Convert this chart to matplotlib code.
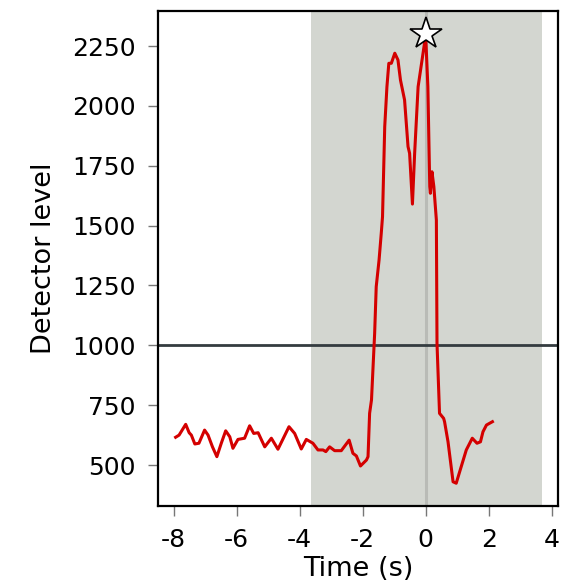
import numpy as np
import matplotlib
matplotlib.use("Agg")
import matplotlib.pyplot as plt

# detector trace (time in s, level)
time_s = [-7.94, -7.83, -7.62, -7.51, -7.44, -7.33, -7.20, -7.02, -6.91, -6.77,
          -6.63, -6.49, -6.35, -6.22, -6.12, -5.96, -5.75, -5.59, -5.46, -5.32,
          -5.11, -4.90, -4.69, -4.34, -4.16, -3.95, -3.79, -3.58, -3.42, -3.26,
          -3.17, -3.05, -2.89, -2.68, -2.43, -2.31, -2.20, -2.07, -1.88, -1.83,
          -1.78, -1.72, -1.62, -1.57, -1.48, -1.41, -1.37, -1.30, -1.23, -1.17,
          -1.09, -0.98, -0.88, -0.80, -0.67, -0.56, -0.51, -0.42, -0.35, -0.24,
          -0.10, 0.00, 0.07, 0.13, 0.15, 0.20, 0.26, 0.34, 0.36, 0.44,
          0.57, 0.60, 0.71, 0.87, 0.97, 1.08, 1.29, 1.48, 1.63, 1.74,
          1.82, 1.93, 2.12]
level = [616, 625, 670, 635, 625, 588, 591, 646, 625, 576,
         535, 591, 643, 618, 570, 607, 612, 664, 632, 635,
         576, 612, 566, 660, 632, 567, 607, 591, 563, 563,
         556, 576, 560, 560, 604, 549, 538, 496, 521, 535,
         716, 772, 1050, 1245, 1356, 1468, 1537, 1913, 2080, 2178,
         2178, 2220, 2192, 2108, 2025, 1830, 1802, 1590, 1802, 2080,
         2205, 2295, 2080, 1663, 1635, 1725, 1663, 1523, 1008, 716,
         695, 681, 597, 430, 424, 472, 563, 612, 591, 597,
         639, 667, 681]

threshold = 1000
window = (-3.64, 3.70)
peak_time, peak_level = 0.0, 2300

x_ticks = [-8, -6, -4, -2, 0, 2, 4]
y_ticks = [500, 750, 1000, 1250, 1500, 1750, 2000, 2250]

plt.rcParams["font.family"] = "DejaVu Sans"
plt.rcParams["axes.unicode_minus"] = False

fig = plt.figure(figsize=(5.63, 5.84), dpi=100)
ax = fig.add_axes([0.2806, 0.1336, 0.7104, 0.8474])

ax.axvspan(window[0], window[1], color="#d3d6d0", lw=0, zorder=0)
ax.axvline(0, color="#b9bbb6", lw=2.2, zorder=1)
ax.axhline(threshold, color="#343c40", lw=2.0, zorder=2)
ax.plot(time_s, level, color="#d40000", lw=2.2, zorder=3)
ax.plot(peak_time, peak_level, marker="*", ms=24, mfc="white",
        mec="black", mew=1.2, zorder=4)

ax.set_xlim(-8.5, 4.2)
ax.set_ylim(329, 2396)
ax.set_xticks(x_ticks)
ax.set_yticks(y_ticks)
ax.tick_params(length=7, width=1, color="#777777", labelsize=18, pad=9)
for sp in ax.spines.values():
    sp.set_linewidth(1.6)

ax.set_xlabel("Time (s)", fontsize=19.5, labelpad=3)
ax.set_ylabel("Detector level", fontsize=19.5, labelpad=11)

fig.savefig("out.png", dpi=100)
